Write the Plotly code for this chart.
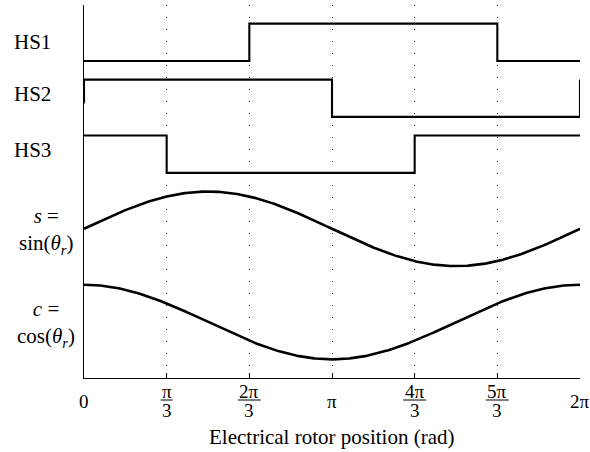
import numpy as np
import plotly.graph_objects as go

PI = np.pi

# Hall sensor logic waveforms: edge positions (rad) and logic levels
hs_names = ["HS1", "HS2", "HS3"]
hs1_x = [0, 2 * PI / 3, 5 * PI / 3, 2 * PI]
hs1_y = [0, 1, 0, 0]
hs2_x = [0, 0, PI, 2 * PI, 2 * PI]
hs2_y = [0.36, 1, 0, 0, 1]
hs3_x = [0, PI / 3, 4 * PI / 3, 2 * PI]
hs3_y = [1, 0, 1, 1]

# vertical baseline of each stacked trace
hs_offsets = [7.0, 5.5, 4.0]
sin_offset = 2.5
cos_offset = 0.0

# x-axis ticks at multiples of pi/3
tick_vals = [k * PI / 3 for k in range(7)]
tick_labels = ["0", "π/3", "2π/3", "π", "4π/3", "5π/3", "2π"]

theta = np.linspace(0, 2 * PI, 361)
s_vals = np.sin(theta)
c_vals = np.cos(theta)

SERIF = "Liberation Serif"
INK = "black"

fig = go.Figure()

for xs, ys, off in zip([hs1_x, hs2_x, hs3_x], [hs1_y, hs2_y, hs3_y], hs_offsets):
    fig.add_trace(go.Scatter(
        x=xs, y=[v + off for v in ys], mode="lines",
        line=dict(color=INK, width=2.1, shape="hv"),
        showlegend=False, hoverinfo="skip",
    ))

fig.add_trace(go.Scatter(x=theta, y=s_vals + sin_offset, mode="lines",
                         line=dict(color=INK, width=2.6), showlegend=False))
fig.add_trace(go.Scatter(x=theta, y=c_vals + cos_offset, mode="lines",
                         line=dict(color=INK, width=2.6), showlegend=False))

annotations = []
shapes = []

# signal names on the left
name_shift = [0, 4, 4]
for name, off, dy in zip(hs_names, hs_offsets, name_shift):
    annotations.append(dict(
        text=name, xref="paper", x=0, xshift=-72, xanchor="left",
        yref="y", y=off + 0.5, yshift=dy, yanchor="middle",
        showarrow=False, font=dict(family=SERIF, size=21, color=INK),
    ))
for txt, off in [("<i>s</i> =<br>sin(<i>θ</i><sub><i>r</i></sub>)", sin_offset),
                 ("<i>c</i> =<br>cos(<i>θ</i><sub><i>r</i></sub>)", cos_offset)]:
    annotations.append(dict(
        text=txt, xref="paper", x=0, xshift=-38, xanchor="center",
        yref="y", y=off, yshift=-2, yanchor="middle", align="center",
        showarrow=False, font=dict(family=SERIF, size=21, color=INK),
    ))

# tick labels, fractions drawn as numerator / bar / denominator
tick_font = dict(family=SERIF, size=19, color=INK)
for xv, lab in zip(tick_vals, tick_labels):
    if "/" in lab:
        num, den = lab.split("/")
        annotations.append(dict(text=num, xref="x", x=xv, yref="paper", y=0,
                                yshift=-13, yanchor="middle", showarrow=False,
                                font=tick_font))
        annotations.append(dict(text=den, xref="x", x=xv, yref="paper", y=0,
                                yshift=-32, yanchor="middle", showarrow=False,
                                font=tick_font))
        half = 6 if len(num) == 1 else 11.5
        shapes.append(dict(type="line", xref="x", xsizemode="pixel", xanchor=xv,
                           x0=-half, x1=half, yref="paper", ysizemode="pixel",
                           yanchor=0, y0=-22, y1=-22,
                           line=dict(color=INK, width=1)))
    else:
        annotations.append(dict(text=lab, xref="x", x=xv, yref="paper", y=0,
                                yshift=-23, yanchor="middle", showarrow=False,
                                font=tick_font))

annotations.append(dict(text="Electrical rotor position (rad)", xref="paper", x=0.5,
                        yref="paper", y=0, yshift=-59, yanchor="middle",
                        showarrow=False, font=dict(family=SERIF, size=21, color=INK)))

fig.update_layout(
    width=590, height=452,
    margin=dict(l=84, r=10, t=5, b=74),
    paper_bgcolor="white", plot_bgcolor="white",
    font=dict(family=SERIF, color=INK),
    annotations=annotations, shapes=shapes,
    xaxis=dict(range=[0, 2 * PI], tickvals=tick_vals, showticklabels=False,
               ticks="inside", ticklen=5, tickcolor=INK, tickwidth=1,
               showline=True, linecolor=INK, linewidth=1,
               showgrid=True, gridcolor="#222", gridwidth=1, griddash="1px,11px",
               zeroline=False, fixedrange=True),
    yaxis=dict(range=[-1.5, 8.5], showticklabels=False, ticks="",
               showline=True, linecolor=INK, linewidth=1,
               showgrid=False, zeroline=False, fixedrange=True),
)

fig.write_html("out.html")
